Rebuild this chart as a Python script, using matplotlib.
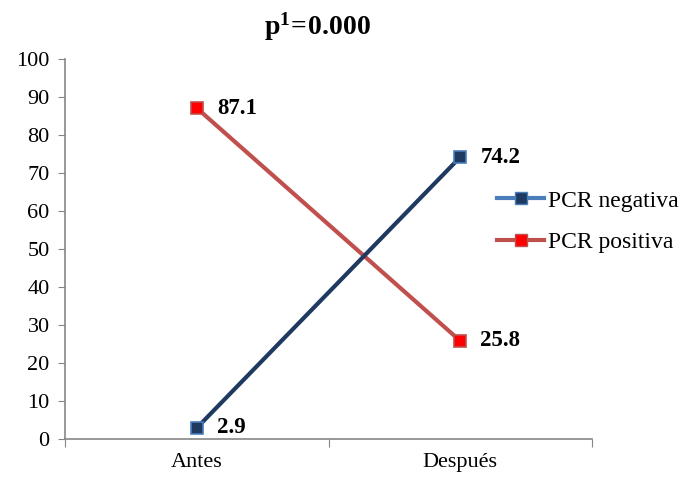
import matplotlib
matplotlib.use("Agg")
import matplotlib.pyplot as plt
from matplotlib.lines import Line2D

categories = ["Antes", "Después"]
pcr_negativa = [2.9, 74.2]
pcr_positiva = [87.1, 25.8]
yticks = [0, 10, 20, 30, 40, 50, 60, 70, 80, 90, 100]
series_names = ["PCR negativa", "PCR positiva"]
title = r"$\mathbf{p^{1}\!=\!0.000}$"

plt.rcParams['font.family'] = ['Liberation Serif', 'DejaVu Serif']
plt.rcParams['mathtext.fontset'] = 'custom'
plt.rcParams['mathtext.rm'] = 'Liberation Serif'
plt.rcParams['mathtext.bf'] = 'Liberation Serif:bold'

fig = plt.figure(figsize=(6.81, 4.79), dpi=100)
ax = fig.add_axes([0.0954, 0.0835, 0.774, 0.7933])

x = [0.5, 1.5]
neg_line = "#1F3A60"
neg_leg = "#4A7EBB"
pos_line = "#C0504D"

ax.plot(x, pcr_positiva, color=pos_line, lw=3, marker='s', ms=8,
        mfc="#FF0000", mec="#C0504D", mew=1.2, zorder=3)
ax.plot(x, pcr_negativa, color=neg_line, lw=3, marker='s', ms=8,
        mfc="#1F3A60", mec="#4A7EBB", mew=1.2, zorder=3)

for series in (pcr_positiva, pcr_negativa):
    for xi, v in zip(x, series):
        ax.annotate(f"{v:.1f}", (xi, v), xytext=(14.5, 0), textcoords='offset points',
                    ha='left', va='center', fontsize=16.5, fontweight='bold')

ax.set_xlim(0, 2)
ax.set_ylim(0, 100)
ax.set_yticks(yticks)
ax.set_yticklabels([str(t) for t in yticks], fontsize=16)
ax.set_xticks([0, 1, 2])
ax.set_xticklabels([])
ax.set_xticks(x, minor=True)
ax.set_xticklabels(categories, minor=True, fontsize=16)
ax.tick_params(axis='x', which='minor', length=0, pad=10)
ax.tick_params(axis='x', which='major', length=6, color='#868686', direction='out')
ax.tick_params(axis='y', length=5, color='#868686', direction='out', pad=6)

for s in ['top', 'right']:
    ax.spines[s].set_visible(False)
for s in ['left', 'bottom']:
    ax.spines[s].set_color('#868686')
    ax.spines[s].set_linewidth(1.2)

fig.text(0.4655, 0.944, title, ha='center', va='center', fontsize=20)

handles = [
    Line2D([], [], color=neg_leg, lw=3, marker='s', ms=8, mfc="#1F3A60", mec="#4A7EBB"),
    Line2D([], [], color=pos_line, lw=3, marker='s', ms=8, mfc="#FF0000", mec="#C0504D"),
]
fig.legend(handles, series_names, loc='center left',
           bbox_to_anchor=(0.730, 0.537), frameon=False, fontsize=17,
           handlelength=2.0, handletextpad=0.15, labelspacing=0.85, borderpad=0,
           borderaxespad=0)

fig.savefig("out.png", dpi=100)
